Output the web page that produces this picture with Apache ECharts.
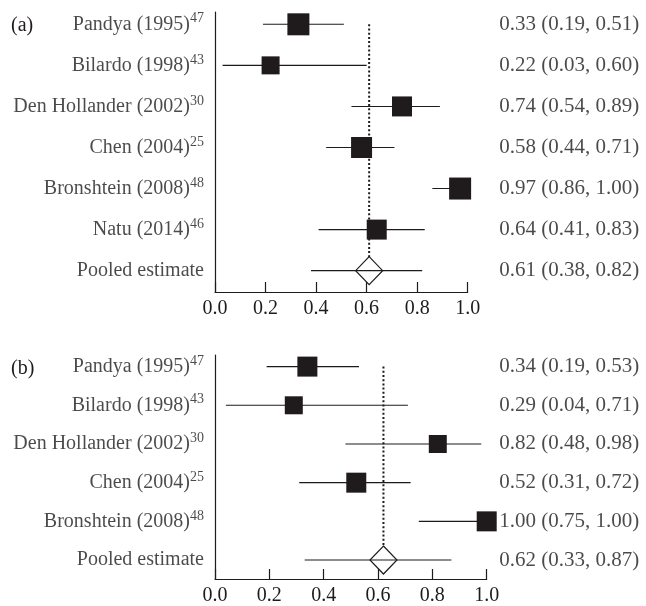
<!DOCTYPE html>
<html>
<head>
<meta charset="utf-8">
<script src="https://cdn.jsdelivr.net/npm/echarts@6/dist/echarts.min.js"></script>
<style>html,body{margin:0;padding:0;background:#fff}#c{width:646px;height:606px}</style>
</head>
<body>
<div id="c"></div>
<script>
// ---- data ----
const studiesA = ['Pandya (1995)', 'Bilardo (1998)', 'Den Hollander (2002)', 'Chen (2004)', 'Bronshtein (2008)', 'Natu (2014)', 'Pooled estimate'];
const refsA = ['47', '43', '30', '25', '48', '46', ''];
const estA = [0.33, 0.22, 0.74, 0.58, 0.97, 0.64, 0.61];
const lowA = [0.19, 0.03, 0.54, 0.44, 0.86, 0.41, 0.38];
const highA = [0.51, 0.60, 0.89, 0.71, 1.00, 0.83, 0.82];

const studiesB = ['Pandya (1995)', 'Bilardo (1998)', 'Den Hollander (2002)', 'Chen (2004)', 'Bronshtein (2008)', 'Pooled estimate'];
const refsB = ['47', '43', '30', '25', '48', ''];
const estB = [0.34, 0.29, 0.82, 0.52, 1.00, 0.62];
const lowB = [0.19, 0.04, 0.48, 0.31, 0.75, 0.33];
const highB = [0.53, 0.71, 0.98, 0.72, 1.00, 0.87];

const xTicks = [0, 0.2, 0.4, 0.6, 0.8, 1.0];

// ---- styles ----
const markerSizeA = [22, 18, 20, 21, 22, 20];
const markerSizeB = [20, 18, 18, 20, 20];
const INK = '#1f1b1c';
const FONT = 'Liberation Serif';
const FS = 20;

function fmt(v) { return v.toFixed(2); }

function panelSeries(g, studies, refs, est, low, high, sizes, rightDist) {
  const n = studies.length;
  const pooled = n - 1;
  const s = [];
  s.push({
    type: 'line', xAxisIndex: g, yAxisIndex: g, z: 1, silent: true,
    symbol: 'none',
    data: [[est[pooled], 0], [est[pooled], pooled]],
    lineStyle: { color: INK, width: 2, type: [2, 2.2] }
  });
  s.push({
    type: 'scatter', xAxisIndex: g, yAxisIndex: g, z: 2, silent: true,
    symbol: 'diamond', symbolSize: [27, 28],
    data: [[est[pooled], pooled]],
    itemStyle: { color: '#fff', borderColor: INK, borderWidth: 1.2, opacity: 1 }
  });
  s.push({
    type: 'custom', xAxisIndex: g, yAxisIndex: g, z: 3, silent: true,
    data: low.map((l, i) => [l, high[i], i]),
    encode: { x: [0, 1], y: 2 },
    renderItem: function (params, api) {
      const a = api.coord([api.value(0), api.value(2)]);
      const b = api.coord([api.value(1), api.value(2)]);
      return { type: 'line', shape: { x1: a[0], y1: a[1], x2: b[0], y2: b[1] },
               style: { stroke: INK, lineWidth: 1.1 } };
    }
  });
  s.push({
    type: 'scatter', xAxisIndex: g, yAxisIndex: g, z: 4, silent: true,
    symbol: 'rect',
    data: est.slice(0, pooled).map((e, i) => ({ value: [e, i], symbolSize: sizes[i] })),
    itemStyle: { color: INK, opacity: 1 }
  });
  s.push({
    type: 'scatter', xAxisIndex: g, yAxisIndex: g, z: 5, silent: true,
    symbolSize: 0.1,
    itemStyle: { color: 'rgba(0,0,0,0)' },
    data: studies.map((name, i) => [0, i]),
    label: {
      show: true, position: 'left', distance: 11,
      formatter: function (p) {
        const i = p.dataIndex;
        return refs[i] ? '{n|' + studies[i] + '}{s|' + refs[i] + '}' : '{n|' + studies[i] + '}';
      },
      rich: {
        n: { fontFamily: FONT, fontSize: FS, color: INK },
        s: { fontFamily: FONT, fontSize: 14, color: INK, padding: [0, 0, 11, 0] }
      }
    }
  });
  s.push({
    type: 'scatter', xAxisIndex: g, yAxisIndex: g, z: 5, silent: true,
    symbolSize: 0.1,
    itemStyle: { color: 'rgba(0,0,0,0)' },
    data: studies.map((name, i) => [1, i]),
    label: {
      show: true, position: 'right', distance: rightDist,
      fontFamily: FONT, fontSize: 21, color: INK,
      formatter: function (p) {
        const i = p.dataIndex;
        return fmt(est[i]) + ' (' + fmt(low[i]) + ', ' + fmt(high[i]) + ')';
      }
    }
  });
  return s;
}

function xAxisFor(g) {
  return {
    type: 'value', gridIndex: g, min: xTicks[0], max: xTicks[xTicks.length - 1], interval: 0.2,
    axisLine: { show: true, onZero: false, lineStyle: { color: INK, width: 1.2 } },
    axisTick: { show: true, inside: true, length: 10, lineStyle: { color: INK, width: 1.2 } },
    splitLine: { show: false },
    axisLabel: { margin: 7, fontFamily: FONT, fontSize: 20, color: INK,
                 formatter: v => v.toFixed(1) }
  };
}
function yAxisFor(g, min, max) {
  return {
    type: 'value', gridIndex: g, inverse: true, min: min, max: max,
    axisLine: { show: true, onZero: false, lineStyle: { color: INK, width: 1.2 } },
    axisTick: { show: false }, axisLabel: { show: false }, splitLine: { show: false }
  };
}

const chart = echarts.init(document.getElementById('c'), null, { renderer: 'canvas' });
chart.setOption({
  animation: false,
  backgroundColor: '#fff',
  title: [
    { text: '(a)', left: 6, top: 11, textStyle: { fontFamily: FONT, fontSize: FS, fontWeight: 'normal', color: INK } },
    { text: '(b)', left: 6, top: 354, textStyle: { fontFamily: FONT, fontSize: FS, fontWeight: 'normal', color: INK } }
  ],
  grid: [
    { left: 215, top: 12, width: 252.7, height: 280 },
    { left: 215, top: 355, width: 271.7, height: 225 }
  ],
  xAxis: [xAxisFor(0), xAxisFor(1)],
  yAxis: [yAxisFor(0, -0.3, 6.52), yAxisFor(1, -0.3, 5.49)],
  series: [].concat(
    panelSeries(0, studiesA, refsA, estA, lowA, highA, markerSizeA, 31.6),
    panelSeries(1, studiesB, refsB, estB, lowB, highB, markerSizeB, 12.6)
  )
});
</script>
</body>
</html>
